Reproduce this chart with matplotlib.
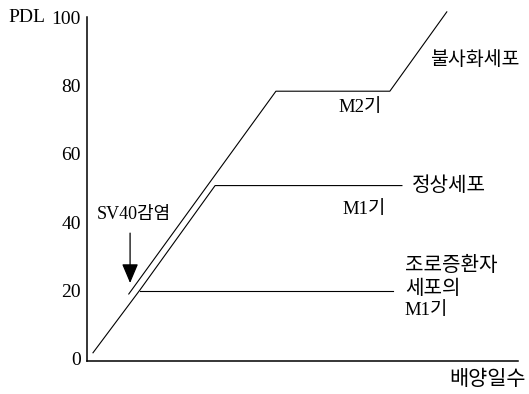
import matplotlib
matplotlib.use("Agg")
import matplotlib.pyplot as plt

# Schematic growth curves (x = culture time, arbitrary units; y = PDL)
normal_x = [1.5, 12.4, 29.8, 73.1]
normal_pdl = [1.8, 20.2, 50.7, 50.7]
progeria_x = [12.4, 71.0]
progeria_pdl = [19.9, 19.9]
sv40_x = [9.8, 43.9, 70.3, 83.5]
sv40_pdl = [19.0, 78.3, 78.3, 101.5]

yticks = [0, 20, 40, 60, 80, 100]
arrow_x = 10.1
arrow_pdl = (36.8, 22.2)  # tail, tip

LATIN = "Liberation Serif"
KOREAN = ["Liberation Serif", "Noto Sans CJK KR", "DejaVu Sans"]
KO_SIZE = 14.5

fig = plt.figure(figsize=(5.29, 3.94), dpi=100)
ax = fig.add_axes([86.5 / 529, 33 / 394, (518 - 86.5) / 529, 344 / 394])
ax.set_xlim(0, 100)
ax.set_ylim(-0.6, 100)

for xs, ys in ((normal_x, normal_pdl), (progeria_x, progeria_pdl),
               (sv40_x, sv40_pdl)):
    ax.plot(xs, ys, color="black", lw=0.8, clip_on=False,
            solid_joinstyle="miter")

ax.annotate("", xy=(arrow_x, arrow_pdl[1]), xytext=(arrow_x, arrow_pdl[0]),
            arrowprops=dict(arrowstyle="-|>,head_length=0.85,head_width=0.36",
                            mutation_scale=14, color="black", lw=0.9,
                            shrinkA=0, shrinkB=0))

ax.set_yticks(yticks)
ax.set_yticklabels([str(t) for t in yticks], family=LATIN, fontsize=14)
ax.tick_params(axis="y", length=0, pad=4)
ax.set_xticks([])
for side in ("top", "right"):
    ax.spines[side].set_visible(False)
for side in ("left", "bottom"):
    ax.spines[side].set_linewidth(1.1)

ax.text(-18.2, 100, "PDL", family=LATIN, fontsize=14, ha="left",
        va="center", clip_on=False)
ax.text(11.0, 42.1, "SV40감염", family=KOREAN, fontsize=13, ha="center",
        va="center")
ax.text(79.6, 87.4, "불사화세포", family=KOREAN, fontsize=14, ha="left",
        va="center")
ax.text(58.5, 73.4, "M2기", family=KOREAN, fontsize=13.5, ha="left",
        va="center")
ax.text(75.4, 50.3, "정상세포", family=KOREAN, fontsize=KO_SIZE, ha="left",
        va="center")
ax.text(59.4, 43.6, "M1기", family=KOREAN, fontsize=13.5, ha="left",
        va="center")
ax.text(73.8, 26.9, "조로증환자", family=KOREAN, fontsize=KO_SIZE, ha="left",
        va="center")
ax.text(73.8, 20.2, "세포의", family=KOREAN, fontsize=KO_SIZE, ha="left",
        va="center")
ax.text(73.8, 14.3, "M1기", family=KOREAN, fontsize=13.5, ha="left",
        va="center")
ax.text(84.0, -6.4, "배양일수", family=KOREAN, fontsize=15,
        ha="left", va="center", clip_on=False)

fig.savefig("out.png", dpi=100)
